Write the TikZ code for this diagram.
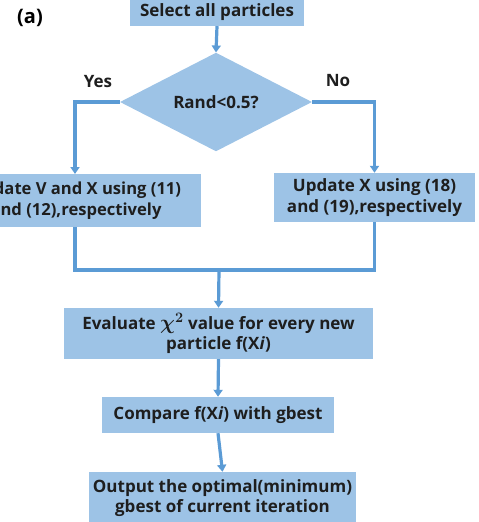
\documentclass[tikz,border=0pt]{standalone}
\usepackage{fontspec}
\setmainfont{Open Sans}
\usetikzlibrary{shapes.geometric,arrows.meta}
\definecolor{boxfill}{HTML}{9DC3E6}
\definecolor{linec}{HTML}{5B9BD5}
\definecolor{txt}{HTML}{1E1E1E}
\begin{document}
\begin{tikzpicture}[x=1pt,y=-1pt,
  tfont/.style={font=\bfseries\boldmath\fontsize{17}{20.5}\selectfont},
  proc/.style={rectangle,fill=boxfill,draw=none,inner sep=0pt,align=center,text=txt,tfont},
  flow/.style={draw=linec,line width=3.2pt},
  arr/.style={flow,-{Triangle[width=9pt,length=7pt]}}]
\useasboundingbox (0,0) rectangle (479,522);
\begin{scope}
\clip (0,0) rectangle (479,522);
\node[proc,minimum width=174pt,minimum height=28pt] (sel) at (217,12) {Select all particles};
\node[diamond,fill=boxfill,inner sep=0pt,minimum width=192pt,minimum height=70pt,text=txt,tfont] (dia) at (216,102) {Rand<0.5?};
\node[proc,minimum width=250pt,minimum height=53pt,font=\bfseries\fontsize{16.6}{20.5}\selectfont] (lb) at (76,200.5) {Update V and X using (11)\\and (12),respectively};
\node[proc,minimum width=201pt,minimum height=49pt] (rb) at (374.5,197.5) {Update X using (18)\\and (19),respectively};
\node[proc,minimum width=309pt,minimum height=51pt] (ev) at (218.5,333.5) {Evaluate \raisebox{-0.5pt}{\fontsize{20}{20}\selectfont$\chi^2$} value for every new\\particle f(X\textit{i})};
\node[proc,minimum width=232pt,minimum height=36pt] (cmp) at (218,415) {Compare f(X\textit{i}) with gbest};
\node[proc,minimum width=267pt,minimum height=52pt] (out) at (222.5,498) {Output the optimal(minimum)\\gbest of current iteration};
\node[text=black,font=\bfseries\fontsize{20}{24}\selectfont] (lab) at (30,18) {(a)};
\node[text=txt,tfont] (yes) at (98,82) {Yes};
\node[text=txt,tfont] (no) at (338,81) {No};
\coordinate (m) at (219,270);
\coordinate (lt) at (75,174);
\draw[arr] (sel.south) -- (dia.north);
\draw[arr] (dia.west) -| (lt);
\draw[arr] (dia.east) -| (rb.north);
\draw[flow] (lt |- lb.south) |- (m);
\draw[flow] (rb.south) |- (m);
\draw[arr] (m) -- (ev.north);
\draw[arr] (ev.south) -- (cmp.north);
\draw[arr] (cmp.south) -- (out.north);
\end{scope}
\end{tikzpicture}
\end{document}
